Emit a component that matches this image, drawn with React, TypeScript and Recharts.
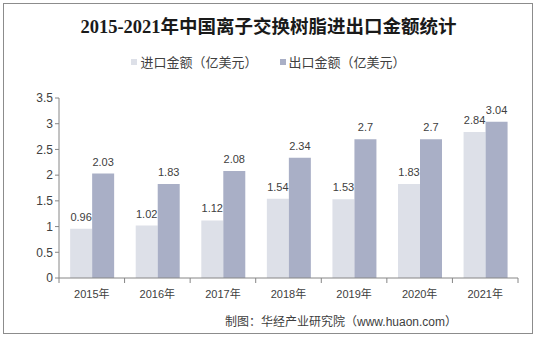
import React from 'react';
import { BarChart, Bar, XAxis, YAxis, LabelList, Legend } from 'recharts';

const years = ['2015年', '2016年', '2017年', '2018年', '2019年', '2020年', '2021年'];
const importValues = [0.96, 1.02, 1.12, 1.54, 1.53, 1.83, 2.84];
const exportValues = [2.03, 1.83, 2.08, 2.34, 2.7, 2.7, 3.04];
const yTicks = [0, 0.5, 1, 1.5, 2, 2.5, 3, 3.5];

const data = years.map((y, i) => ({ year: y, imp: importValues[i], exp: exportValues[i] }));

const FONT = "'Liberation Sans', 'Noto Sans CJK SC', sans-serif";

const XTick = (props: any) => {
  const { x, y, payload, index } = props;
  const half = payload && payload.offset ? payload.offset : 32.8;
  return (
    <g>
      <line x1={x - half} y1={y - 8} x2={x - half} y2={y - 3} stroke="#868686" />
      {index === years.length - 1 && (
        <line x1={x + half} y1={y - 8} x2={x + half} y2={y - 3} stroke="#868686" />
      )}
      <text x={x} y={y + 12} textAnchor="middle" fontSize={11} fill="#404040" fontFamily={FONT}>
        {payload.value}
      </text>
    </g>
  );
};

const LegendContent = () => (
  <div style={{ display: 'flex', justifyContent: 'center', fontFamily: FONT, fontSize: 13, color: '#404040' }}>
    <span style={{ display: 'flex', alignItems: 'center', marginRight: 22 }}>
      <span style={{ width: 6, height: 6, background: '#dde0e8', marginRight: 3 }} />
      进口金额（亿美元）
    </span>
    <span style={{ display: 'flex', alignItems: 'center' }}>
      <span style={{ width: 6, height: 6, background: '#a9afc6', marginRight: 3 }} />
      出口金额（亿美元）
    </span>
  </div>
);

export default function App() {
  return (
    <div style={{ position: 'absolute', left: 0, top: 0, width: 537, height: 338, background: '#fff' }}>
      <div style={{ position: 'absolute', left: 3, top: 3, width: 528, height: 329, border: '1px solid #8c8c8c' }} />
      <div
        style={{
          position: 'absolute',
          left: 0,
          top: 12,
          width: 537,
          textAlign: 'center',
          fontFamily: "'Liberation Serif', 'Noto Sans CJK SC', serif",
          fontWeight: 'bold',
          fontSize: 18.5,
          color: '#1a1a1a',
        }}
      >
        2015-2021年中国离子交换树脂进出口金额统计
      </div>
      <div style={{ position: 'absolute', left: 0, top: 0 }}>
        <BarChart
          width={537}
          height={338}
          data={data}
          margin={{ top: 79, right: 19, bottom: 30, left: 9 }}
          barCategoryGap="17%"
          barGap={0}
        >
          <XAxis
            dataKey="year"
            axisLine={{ stroke: '#868686' }}
            tickLine={false}
            tick={<XTick />}
            interval={0}
            height={30}
          />
          <YAxis
            domain={[0, 3.5]}
            ticks={yTicks}
            width={50}
            axisLine={{ stroke: '#868686' }}
            tickLine={{ stroke: '#868686' }}
            tickSize={4}
            tick={{ fontSize: 12, fill: '#404040', fontFamily: FONT }}
          />
          <Legend
            verticalAlign="top"
            content={<LegendContent />}
            wrapperStyle={{ top: 52, left: 0, width: 537 }}
          />
          <Bar dataKey="imp" fill="#dde0e8" isAnimationActive={false}>
            <LabelList dataKey="imp" position="top" offset={8} fontSize={11} fill="#404040" fontFamily={FONT} />
          </Bar>
          <Bar dataKey="exp" fill="#a9afc6" isAnimationActive={false}>
            <LabelList dataKey="exp" position="top" offset={8} fontSize={11} fill="#404040" fontFamily={FONT} />
          </Bar>
        </BarChart>
      </div>
      <div
        style={{
          position: 'absolute',
          left: 225,
          top: 312,
          fontFamily: FONT,
          fontSize: 12,
          color: '#404040',
          whiteSpace: 'nowrap',
        }}
      >
        制图：华经产业研究院（www.huaon.com）
      </div>
    </div>
  );
}
